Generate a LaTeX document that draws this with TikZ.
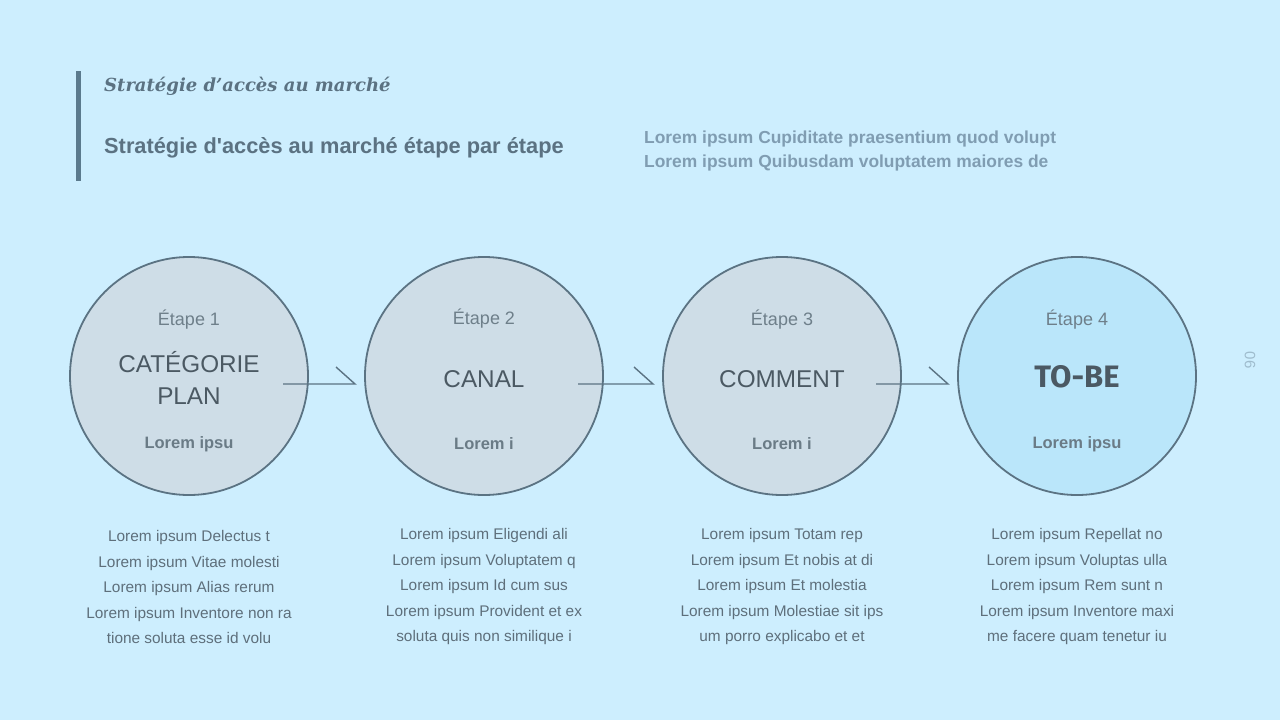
\documentclass[tikz,border=0pt]{standalone}
\usepackage{fontspec}
\setmainfont{Liberation Sans}
\newfontfamily\titleserif{DejaVu Serif}
\newfontfamily\tobefont{Fira Sans}
\usetikzlibrary{calc}
\definecolor{bg}{HTML}{CDEEFE}
\definecolor{cfill}{HTML}{CEDDE7}
\definecolor{cfillhi}{HTML}{BAE6FA}
\definecolor{cstroke}{HTML}{5B7383}
\definecolor{etape}{HTML}{6E7F8A}
\definecolor{maintxt}{HTML}{4B5963}
\definecolor{loremb}{HTML}{6A7B86}
\definecolor{body}{HTML}{5E6F7B}
\definecolor{htitle}{HTML}{5B7282}
\definecolor{hbar}{HTML}{5B7A8D}
\definecolor{rtxt}{HTML}{809DB2}
\definecolor{pnum}{HTML}{9FBCCD}
\tikzset{
  stepcircle/.style={circle, draw=cstroke, line width=1.8pt, fill=cfill, minimum size=238pt, inner sep=0pt},
  etapelbl/.style={text=etape, font=\fontsize{18}{20}\selectfont},
  mainlbl/.style={text=maintxt, align=center, font=\fontsize{24.3}{32}\selectfont},
  loremlbl/.style={text=loremb, font=\bfseries\fontsize{16.5}{20}\selectfont},
  bodytxt/.style={text=body, align=center, font=\fontsize{15.4}{25.5}\selectfont},
  conn/.style={draw=cstroke, line width=1.4pt}
}
\begin{document}
\begin{tikzpicture}[x=1pt,y=-1pt]
\fill[bg] (0,0) rectangle (1280,720);
\useasboundingbox (0,0) rectangle (1280,720);
% header
\fill[hbar] (76,71) rectangle (81,181);
\node[anchor=west, text=htitle, inner sep=0pt, font=\titleserif\bfseries\itshape\fontsize{18}{24}\selectfont] (t1) at (104,86) {Stratégie d’accès au marché};
\node[anchor=west, text=htitle, inner sep=0pt, font=\bfseries\fontsize{21.8}{24}\selectfont] (t2) at (104,148) {Stratégie d\textquotesingle accès au marché étape par étape};
\node[anchor=west, text=rtxt, inner sep=0pt, align=left, font=\bfseries\fontsize{17.4}{24.5}\selectfont] (t3) at (644,151) {Lorem ipsum Cupiditate praesentium quod volupt\\Lorem ipsum Quibusdam voluptatem maiores de};
\node[text=pnum, rotate=-90, inner sep=0pt, font=\fontsize{15}{16}\selectfont] (pn) at (1250,360) {06};
% circles
\node[stepcircle] (c1) at (189,376) {};
\node[stepcircle] (c2) at (484,376) {};
\node[stepcircle] (c3) at (782,376) {};
\node[stepcircle, fill=cfillhi] (c4) at (1077,376) {};
% circle texts
\node[etapelbl] (e1) at ($(c1)+(0,-56)$) {Étape 1};
\node[etapelbl] (e2) at ($(c2)+(0,-57)$) {Étape 2};
\node[etapelbl] (e3) at ($(c3)+(0,-56)$) {Étape 3};
\node[etapelbl] (e4) at ($(c4)+(0,-56)$) {Étape 4};
\node[mainlbl] (m1) at ($(c1)+(0,2)$) {CATÉGORIE\\PLAN};
\node[mainlbl] (m2) at ($(c2)+(0,3)$) {CANAL};
\node[mainlbl] (m3) at ($(c3)+(0,3)$) {COMMENT};
\node[text=maintxt, font=\tobefont\bfseries\fontsize{31}{34}\selectfont] (m4) at ($(c4)+(0,1)$) {TO-BE};
\node[loremlbl] (l1) at ($(c1)+(0,68)$) {Lorem ipsu};
\node[loremlbl] (l2) at ($(c2)+(0,68)$) {Lorem i};
\node[loremlbl] (l3) at ($(c3)+(0,68)$) {Lorem i};
\node[loremlbl] (l4) at ($(c4)+(0,68)$) {Lorem ipsu};
% connectors
\foreach \a/\b in {c1/c2,c2/c3,c3/c4}{
  \coordinate (s\a) at ($(\a)+(94,8)$);
  \coordinate (t\a) at ($(\b)+(-129,8)$);
  \draw[conn] (s\a) -- (t\a) -- ($(t\a)+(-19,-17)$);
}
% body texts
\node[bodytxt] (b1) at (189,587) {Lorem ipsum Delectus t\\Lorem ipsum Vitae molesti\\Lorem ipsum Alias rerum\\Lorem ipsum Inventore non ra\\tione soluta esse id volu};
\node[bodytxt] (b2) at (484,587) {Lorem ipsum Eligendi ali\\Lorem ipsum Voluptatem q\\Lorem ipsum Id cum sus\\Lorem ipsum Provident et ex\\soluta quis non similique i};
\node[bodytxt] (b3) at (782,587) {Lorem ipsum Totam rep\\Lorem ipsum Et nobis at di\\Lorem ipsum Et molestia\\Lorem ipsum Molestiae sit ips\\um porro explicabo et et};
\node[bodytxt] (b4) at (1077,587) {Lorem ipsum Repellat no\\Lorem ipsum Voluptas ulla\\Lorem ipsum Rem sunt n\\Lorem ipsum Inventore maxi\\me facere quam tenetur iu};
\end{tikzpicture}
\end{document}
